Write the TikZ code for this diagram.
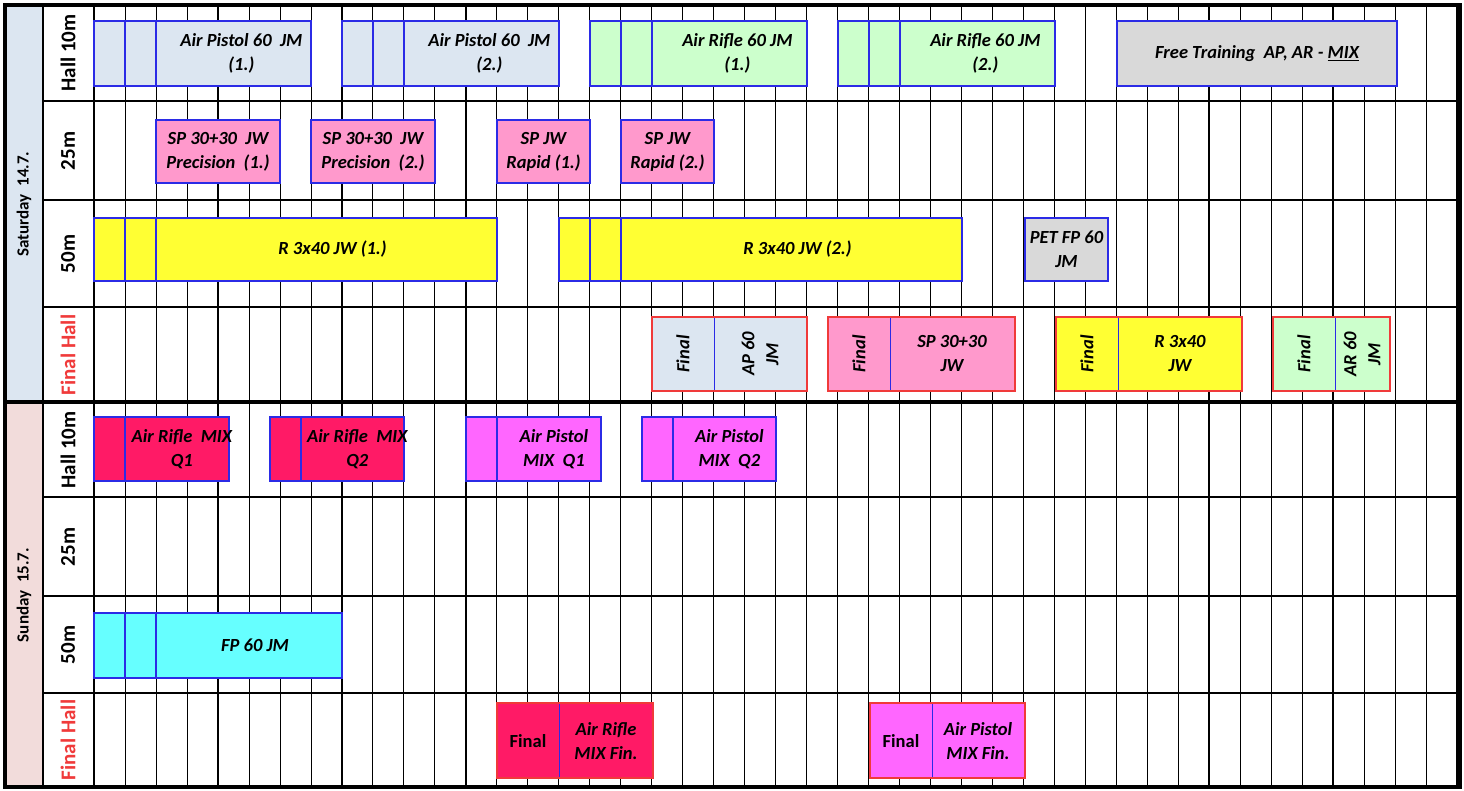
\documentclass[tikz,border=0pt]{standalone}
\usepackage{fontspec}
\setmainfont{Carlito}
\definecolor{apc}{HTML}{DCE6F1}
\definecolor{arc}{HTML}{CCFFCC}
\definecolor{grc}{HTML}{D9D9D9}
\definecolor{pkc}{HTML}{FF99CC}
\definecolor{yec}{HTML}{FFFF33}
\definecolor{rdc}{HTML}{FF1A66}
\definecolor{vic}{HTML}{FF66FF}
\definecolor{cyc}{HTML}{66FFFF}
\definecolor{satc}{HTML}{DCE6F1}
\definecolor{sunc}{HTML}{F2DCDB}
\definecolor{bdr}{HTML}{2B2BE6}
\definecolor{fbr}{HTML}{F03A3A}
\newcommand{\evf}{\fontsize{18.5}{24}\selectfont\bfseries\itshape}
\tikzset{
 ev/.style={draw=bdr,line width=1.3pt,inner sep=1pt},
 fin/.style={ev,draw=fbr,line width=2.6pt},
 divl/.style={draw=bdr,line width=1.3pt},
 lab/.style={font=\fontsize{21}{24}\selectfont\bfseries,rotate=90},
 tx/.style={font=\evf,align=center,inner sep=0pt},
 rt/.style={tx,rotate=90},
}
\newcommand{\evbox}[8]{% name, x1,y1,x2,y2, fill, style, text
 \node[#7,fill=#6,minimum width={#4-#2},minimum height={#5-#3}] (#1) at ({(#2+#4)/2},{(#3+#5)/2}) {};
 \node[tx] (#1t) at ({(#2+#4)/2},{(#3+#5)/2}) {#8};}
\begin{document}
\begin{tikzpicture}[x=1pt,y=-1pt]
\useasboundingbox (0,0) rectangle (1464,791);
\fill[white] (0,0) rectangle (1464,791);
\fill[satc] (5,5) rectangle (43,402);
\fill[sunc] (5,402) rectangle (43,787);
% grid
\foreach \i in {0,...,44}{
 \pgfmathsetmacro{\xx}{94+\i*30.98}
 \pgfmathtruncatemacro{\m}{mod(\i,4)}
 \ifnum\m=0 \draw[line width=1.6pt] (\xx,5) -- (\xx,787); \else \draw[line width=0.7pt] (\xx,5) -- (\xx,787); \fi
}
\foreach \yy in {101,200,307,497,596,693}{\draw[line width=1.2pt] (43,\yy) -- (1460,\yy);}
\draw[line width=1.2pt] (43,5) -- (43,787);
\draw[line width=3.5pt] (5,402) -- (1460,402);
\draw[line width=3.5pt] (5,5) rectangle (1460,787);
% labels
\node[lab,font=\fontsize{17}{20}\selectfont\bfseries] (sat) at (24,204) {Saturday\ \ 14.7.};
\node[lab,font=\fontsize{17}{20}\selectfont\bfseries] (sun) at (24,595) {Sunday\ \ 15.7.};
\node[lab] (h1) at (68,53) {Hall 10m};
\node[lab] (r1) at (68,151) {25m};
\node[lab] (f1) at (68,254) {50m};
\node[lab,text=fbr] (g1) at (68,355) {Final Hall};
\node[lab] (h2) at (68,450) {Hall 10m};
\node[lab] (r2) at (68,547) {25m};
\node[lab] (f2) at (68,645) {50m};
\node[lab,text=fbr] (g2) at (68,740) {Final Hall};
% Saturday hall 10m
\evbox{a1}{94}{21}{311}{86}{apc}{ev}{\hspace{4.2em}Air Pistol 60\ \ JM\\\hspace{4.2em}(1.)}
\evbox{a2}{342}{21}{559}{86}{apc}{ev}{\hspace{4.2em}Air Pistol 60\ \ JM\\\hspace{4.2em}(2.)}
\evbox{a3}{590}{21}{807}{86}{arc}{ev}{\hspace{4.2em}Air Rifle 60 JM\\\hspace{4.2em}(1.)}
\evbox{a4}{838}{21}{1055}{86}{arc}{ev}{\hspace{4.2em}Air Rifle 60 JM\\\hspace{4.2em}(2.)}
\foreach \xx in {125,156,373,404,621,652,869,900}{\draw[divl] (\xx,21) -- (\xx,86);}
\evbox{a5}{1117}{21}{1397}{86}{grc}{ev}{Free Training\ \ AP, AR - \underline{MIX}}
% 25m
\evbox{b1}{156}{120}{280}{183}{pkc}{ev}{SP 30+30\ \ JW\\Precision\ \ (1.)}
\evbox{b2}{311}{120}{435}{183}{pkc}{ev}{SP 30+30\ \ JW\\Precision\ \ (2.)}
\evbox{b3}{497}{120}{590}{183}{pkc}{ev}{SP JW\\Rapid (1.)}
\evbox{b4}{621}{120}{714}{183}{pkc}{ev}{SP JW\\Rapid (2.)}
% 50m
\evbox{c1}{94}{218}{497}{281}{yec}{ev}{\hspace{4em}R 3x40 JW (1.)}
\evbox{c2}{559}{218}{962}{281}{yec}{ev}{\hspace{4em}R 3x40 JW (2.)}
\foreach \xx in {125,156,590,621}{\draw[divl] (\xx,218) -- (\xx,281);}
\evbox{c3}{1025}{218}{1108}{281}{grc}{ev}{PET FP 60\\JM}
% Final hall Saturday
\evbox{d1}{652}{317}{807}{391}{apc}{fin}{}
\evbox{d2}{828}{317}{1015}{391}{pkc}{fin}{}
\evbox{d3}{1056}{317}{1242}{391}{yec}{fin}{}
\evbox{d4}{1273}{317}{1390}{391}{arc}{fin}{}
\foreach \xx in {714,890,1118,1335}{\draw[divl,line width=1pt] (\xx,318) -- (\xx,390);}
\node[rt] (d1a) at (683,354) {Final};
\node[rt] (d1b) at (760,354) {AP 60\\JM};
\node[rt] (d2a) at (859,354) {Final};
\node[tx] (d2b) at (952,354) {SP 30+30\\JW};
\node[rt] (d3a) at (1087,354) {Final};
\node[tx] (d3b) at (1180,354) {R 3x40\\JW};
\node[rt] (d4a) at (1304,354) {Final};
\node[rt] (d4b) at (1362,354) {AR 60\\JM};
% Sunday hall 10m
\evbox{e1}{94}{417}{229}{481}{rdc}{ev}{\hspace{2.2em}Air Rifle\ \ MIX\\\hspace{2.2em}Q1}
\evbox{e2}{270}{417}{404}{481}{rdc}{ev}{\hspace{2.2em}Air Rifle\ \ MIX\\\hspace{2.2em}Q2}
\evbox{e3}{466}{417}{601}{481}{vic}{ev}{\hspace{2.2em}Air Pistol\\\hspace{2.2em}MIX\ \ Q1}
\evbox{e4}{642}{417}{776}{481}{vic}{ev}{\hspace{2.2em}Air Pistol\\\hspace{2.2em}MIX\ \ Q2}
\foreach \xx in {125,301,497,673}{\draw[divl] (\xx,417) -- (\xx,481);}
% Sunday 50m
\evbox{g1b}{94}{613}{342}{678}{cyc}{ev}{\hspace{4em}FP 60 JM}
\foreach \xx in {125,156}{\draw[divl] (\xx,613) -- (\xx,678);}
% Sunday final hall
\evbox{h1b}{497}{703}{653}{778}{rdc}{fin}{}
\evbox{h2b}{870}{703}{1025}{778}{vic}{fin}{}
\foreach \xx in {559,932}{\draw[divl,line width=1pt] (\xx,704) -- (\xx,777);}
\node[tx,font=\fontsize{18.5}{24}\selectfont\bfseries] (h1a) at (528,741) {Final};
\node[tx] (h1c) at (606,741) {Air Rifle\\MIX Fin.};
\node[tx,font=\fontsize{18.5}{24}\selectfont\bfseries] (h2a) at (901,741) {Final};
\node[tx] (h2c) at (978,741) {Air Pistol\\MIX Fin.};
\end{tikzpicture}
\end{document}
